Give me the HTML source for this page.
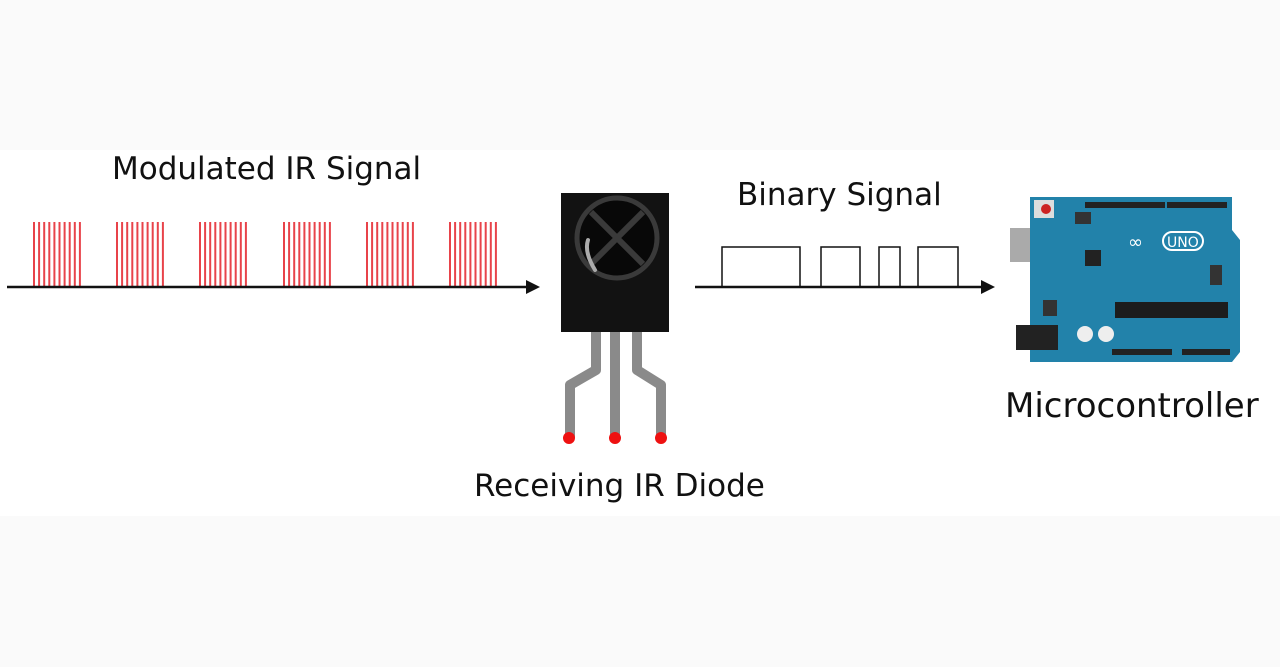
<!DOCTYPE html>
<html><head><style>
body{margin:0;width:1280px;height:667px;background:#fafafa;overflow:hidden;position:relative;font-family:"DejaVu Sans","Liberation Sans",sans-serif;}
.band{position:absolute;left:0;top:150px;width:1280px;height:366px;background:#fff;}
.t{position:absolute;color:#111;white-space:nowrap;}
</style></head><body>
<div class="band"></div>
<div class="t" style="left:112px;top:151px;font-size:31px;">Modulated IR Signal</div>
<div class="t" style="left:737px;top:177px;font-size:31px;">Binary Signal</div>
<div class="t" style="left:474px;top:468px;font-size:31px;">Receiving IR Diode</div>
<div class="t" style="left:1005px;top:386px;font-size:34px;">Microcontroller</div>
<svg width="1280" height="667" style="position:absolute;left:0;top:0">
<g stroke="#e8434a" stroke-width="2" id="bursts">
</g>
<line x1="7" y1="287" x2="530" y2="287" stroke="#111" stroke-width="2.5"/>
<polygon points="540,287 526,280 526,294" fill="#111"/>
<line x1="695" y1="287" x2="985" y2="287" stroke="#111" stroke-width="2.5"/>
<polygon points="995,287 981,280 981,294" fill="#111"/>
<path d="M722 287V247H800V287M821 287V247H860V287M879 287V247H900V287M918 287V247H958V287" fill="none" stroke="#111" stroke-width="1.5"/>
<g fill="none" stroke="#8a8a8a" stroke-width="10" stroke-linejoin="round">
<path d="M596 332V370L570 385V438"/>
<path d="M615 332V438"/>
<path d="M637 332V370L661 385V438"/>
</g>
<rect x="561" y="193" width="108" height="139" fill="#121212"/>
<circle cx="617" cy="238" r="40" fill="#080808" stroke="#3a3a3a" stroke-width="5"/>
<path d="M591 212L643 264M643 212L591 264" stroke="#3a3a3a" stroke-width="6"/>
<path d="M588 240Q584 252 595 270" stroke="#aaa" stroke-width="4" fill="none" stroke-linecap="round"/>
<g fill="#ee1111"><circle cx="569" cy="438" r="6"/><circle cx="615" cy="438" r="6"/><circle cx="661" cy="438" r="6"/></g>
<rect x="1010" y="228" width="42" height="34" fill="#aaa"/>
<path d="M1030 197H1232V230L1240 240V352L1232 362H1030Z" fill="#2282aa"/>
<rect x="1034" y="200" width="20" height="18" fill="#ddd"/><circle cx="1046" cy="209" r="5" fill="#c22"/>
<rect x="1085" y="202" width="80" height="6" fill="#222"/>
<rect x="1167" y="202" width="60" height="6" fill="#222"/>
<rect x="1075" y="212" width="16" height="12" fill="#333"/>
<rect x="1085" y="250" width="16" height="16" fill="#222"/>
<rect x="1210" y="265" width="12" height="20" fill="#333"/>
<rect x="1115" y="302" width="113" height="16" fill="#1c1c1c"/>
<rect x="1016" y="325" width="42" height="25" fill="#222"/>
<rect x="1043" y="300" width="14" height="16" fill="#333"/>
<circle cx="1085" cy="334" r="8" fill="#eee"/><circle cx="1106" cy="334" r="8" fill="#eee"/>
<rect x="1112" y="349" width="60" height="6" fill="#222"/>
<rect x="1182" y="349" width="48" height="6" fill="#222"/>
<text x="1128" y="248" fill="#fff" font-size="18" font-family="DejaVu Sans">∞</text>
<rect x="1163" y="232" width="40" height="18" rx="9" fill="none" stroke="#fff" stroke-width="2"/>
<text x="1167" y="247" fill="#fff" font-size="14" font-family="DejaVu Sans">UNO</text>
</svg>
<script>
var g=document.getElementById('bursts'),s='';
[34,117,200,284,367,450].forEach(function(x0){for(var i=0;i<10;i++){var x=x0+i*5.1;s+='<line x1="'+x+'" y1="222" x2="'+x+'" y2="287"/>';}});
g.innerHTML=s;
</script>
</body></html>
